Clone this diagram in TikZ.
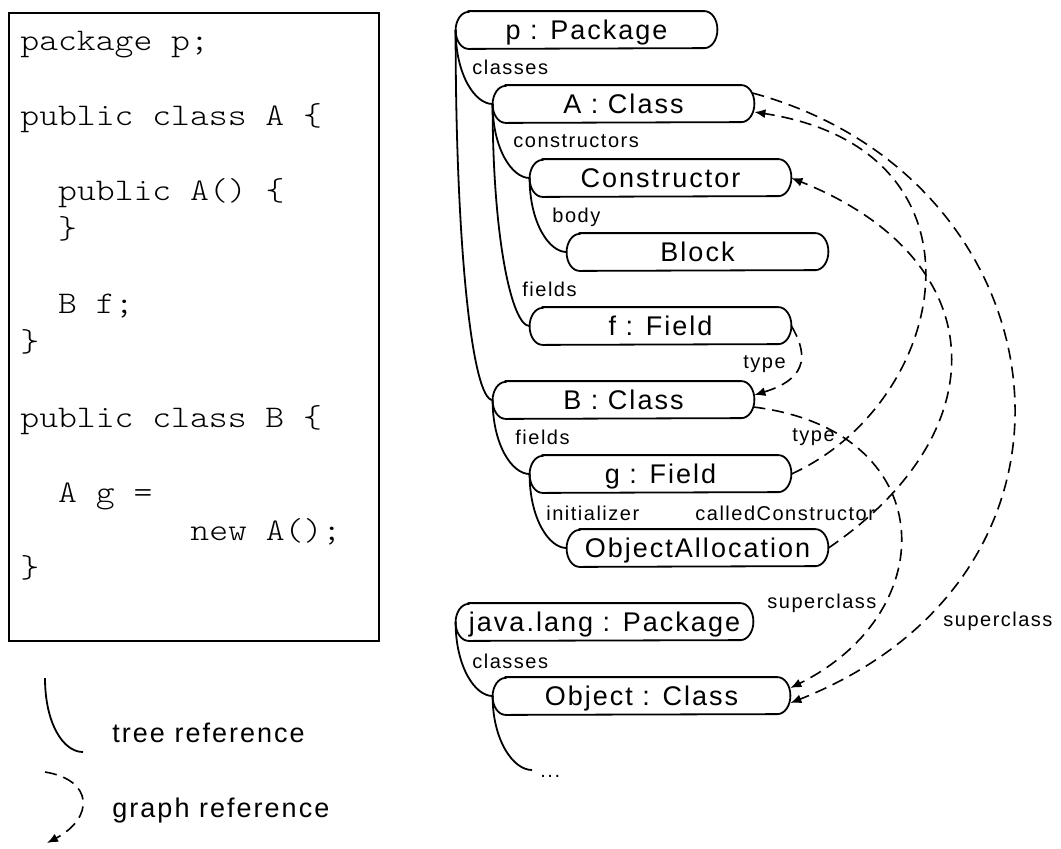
\documentclass[tikz,border=0pt]{standalone}
\usepackage{fontspec}
\usetikzlibrary{arrows.meta}
\newfontfamily\objfont{Liberation Sans}[LetterSpace=7.5]
\newfontfamily\codefont{lmmonolt10-regular}[Extension=.otf, FakeStretch=1.14]

\tikzset{
  obj/.style={inner sep=0pt, minimum height=18.5pt, minimum width=130.5pt,
    text height=9.7pt, text depth=0pt, font=\objfont\fontsize{13.5}{16}\selectfont},
  wideobj/.style={obj, minimum width=148.5pt},
  frame/.style={line width=0.9pt},
  tree/.style={line width=0.9pt},
  graph/.style={line width=0.8pt, dash pattern=on 6pt off 3.5pt,
    -{Latex[length=5.5pt,width=4.5pt]}},
  role/.style={anchor=base west, inner sep=0pt, font=\objfont\fontsize{10}{12}\selectfont},
  code/.style={anchor=base west, inner sep=0pt, font=\codefont\fontsize{15.75}{18}\selectfont},
  legend/.style={anchor=base west, inner sep=0pt, font=\objfont\fontsize{13.5}{16}\selectfont},
}

% outline of an object box: straight top and bottom, bracket-like ends
\newcommand\objoutline[1]{%
  \draw[frame] ([xshift=6.5pt]#1.north west) -- ([xshift=-6.5pt]#1.north east)
    arc[start angle=90, end angle=-90, x radius=6.5pt, y radius=9.25pt]
    -- ([xshift=6.5pt]#1.south west)
    arc[start angle=270, end angle=90, x radius=6.5pt, y radius=9.25pt] -- cycle;}

\begin{document}
\begin{tikzpicture}[x=0.5pt, y=-0.5pt]
\useasboundingbox (0,0) rectangle (1061,848);

% ---- source code ----
\node[draw, line width=1pt, inner sep=0pt, minimum width=185pt, minimum height=314pt,
  anchor=north west] (codebox) at (8,12) {};
\node[code] (c0) at (20,50)    {package p;};
\node[code] (c1) at (20,125.4) {public class A \{};
\node[code] (c2) at (57.8,200.8) {public A() \{};
\node[code] (c3) at (57.8,238.5) {\}};
\node[code] (c4) at (57.8,313.9) {B f;};
\node[code] (c5) at (20,351.6) {\}};
\node[code] (c6) at (20,427)   {public class B \{};
\node[code] (c7) at (57.8,502.4) {A g =};
\node[code] (c8) at (190,540)  {new A();};
\node[code] (c9) at (20,577.8) {\}};

% ---- object nodes ----
\node[obj] (p)    at (586.5,30)  {p : Package};
\node[obj] (A)    at (623.5,104) {A : Class};
\node[obj] (Con)  at (660.5,178) {Constructor};
\node[obj] (Blk)  at (697.5,252) {Block};
\node[obj] (f)    at (660.5,326) {f : Field};
\node[obj] (B)    at (623.5,400) {B : Class};
\node[obj] (g)    at (660.5,474) {g : Field};
\node[obj] (OA)   at (697.5,548) {ObjectAllocation};
\node[wideobj] (jl)  at (604.5,622) {java.lang : Package};
\node[wideobj] (Obj) at (641.5,696) {Object : Class};
\coordinate (more) at (532,770);

\foreach \n in {p,A,Con,Blk,f,B,g,OA,jl,Obj} { \objoutline{\n} }

% ---- tree references ----
\draw[tree] (p.west) .. controls +(0,44) and +(-18,0) .. (A.west);
\draw[tree] (p.west) .. controls +(0,220) and +(-20,0) .. (B.west);
\draw[tree] (A.west) .. controls +(0,44) and +(-18,0) .. (Con.west);
\draw[tree] (Con.west) .. controls +(0,44) and +(-18,0) .. (Blk.west);
\draw[tree] (A.west) .. controls +(0,133) and +(-18,0) .. (f.west);
\draw[tree] (B.west) .. controls +(0,44) and +(-18,0) .. (g.west);
\draw[tree] (g.west) .. controls +(0,44) and +(-18,0) .. (OA.west);
\draw[tree] (jl.west) .. controls +(0,44) and +(-18,0) .. (Obj.west);
\draw[tree] (Obj.west) .. controls +(0,44) and +(-19,0) .. (more);

\node[role] (lcl1) at (472,74)  {classes};
\node[role] (lcon) at (513,147) {constructors};
\node[role] (lbod) at (552,222) {body};
\node[role] (lfa)  at (522,296) {fields};
\node[role] (lfb)  at (515,444) {fields};
\node[role] (lini) at (546,520) {initializer};
\node[role] (lcl2) at (472,668) {classes};
\node[role] (ldots) at (540,777) {...};

% ---- graph references ----
\draw[graph] (f.east) .. controls (811,359) and (803,380) .. ([yshift=2.5pt]B.east);
\draw[graph] ([xshift=-0.5pt,yshift=-3.5pt]B.east) .. controls (940,430) and (945,611) .. ([yshift=4pt]Obj.east);
\draw[graph] ([xshift=-1pt,yshift=5.5pt]A.east) .. controls (1063,177) and (1122,571) .. ([yshift=-3.5pt]Obj.east);
\draw[graph] (g.east) .. controls (950,402) and (1000,150) .. ([yshift=-4pt]A.east);
\draw[graph] (OA.east) .. controls (1000,431) and (994,259) .. (Con.east);

\node[role] (ltf)  at (743,368) {type};
\node[role] (ltg)  at (792,441) {type};
\node[role] (lcc)  at (695,520) {calledConstructor};
\node[role] (lsb)  at (767,608) {superclass};
\node[role] (lsa)  at (943,626) {superclass};

% ---- legend ----
\coordinate (t1) at (45,678);
\coordinate (t2) at (83,752);
\draw[tree] (t1) .. controls +(0,45) and +(-20,0) .. (t2);
\node[legend] (ltree) at (112,742) {tree reference};
\coordinate (g1) at (45,772);
\coordinate (g2) at (47,843);
\draw[graph] (g1) .. controls (94,780) and (94,818) .. (g2);
\node[legend] (lgraph) at (112,817) {graph reference};
\end{tikzpicture}
\end{document}
